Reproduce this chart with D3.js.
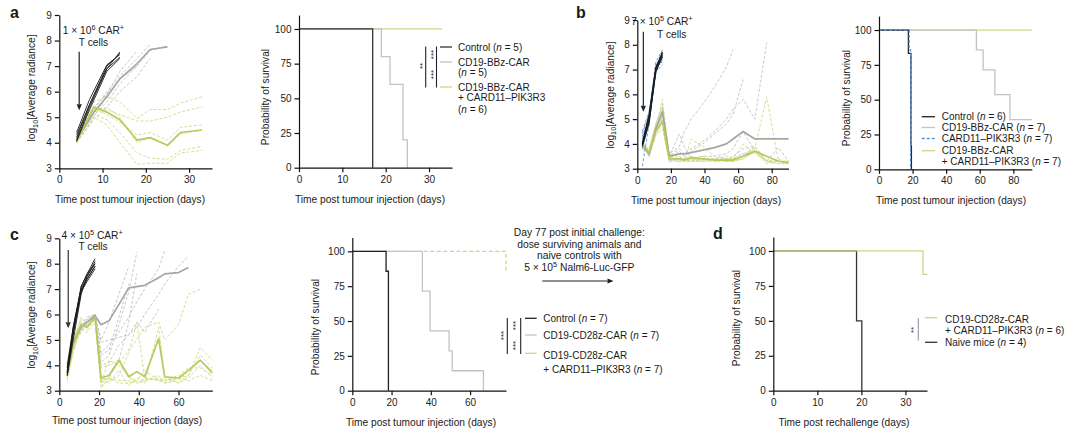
<!DOCTYPE html>
<html><head><meta charset="utf-8">
<script src="https://cdn.jsdelivr.net/npm/d3@7"></script>
<style>
body{margin:0;background:#fff;}
text{font-family:"Liberation Sans",Arial,Helvetica,sans-serif;fill:#1a1a1a;}
</style></head><body>
<svg id="c" width="1080" height="437"></svg>
<script>
// ---------------- DATA ----------------
const radTicks = [3,4,5,6,7,8,9];
const survTicks = [0,25,50,75,100];

// panel a – imaging
const aCtrlDays = [4, 7, 11, 14];
const aCtrl = [[4.1,5.4,6.9,7.55],[4.2,5.5,7.0,7.5],[4.3,5.5,6.9,7.35],[4.05,5.3,6.8,7.3],[4.4,5.7,7.05,7.45]];
const aCarDays = [4, 8, 11, 14, 18, 21, 25];
const aCar = [
  [4.0,5.0,5.9,6.8,7.6,null,null],
  [4.2,5.3,6.0,6.6,7.3,7.85,null],
  [4.1,5.1,5.6,6.3,7.0,7.6,7.8],
  [4.0,4.9,5.4,6.0,6.6,7.3,null],
  [4.2,5.4,5.9,6.5,7.0,null,null]];
const aCarMean = [4.1,5.2,5.8,6.5,7.1,7.65,7.75];
const aCombDays = [4, 8, 11, 14, 18, 21, 25, 28, 33];
const aComb = [
  [4.0,5.6,5.8,5.6,4.95,5.3,5.3,5.55,5.8],
  [4.1,5.4,5.3,5.1,4.85,4.85,5.0,5.2,5.4],
  [4.0,5.35,5.1,4.8,4.3,4.4,4.1,4.6,4.7],
  [4.1,5.1,4.9,4.4,3.6,3.4,3.35,3.7,3.85],
  [4.0,5.0,4.7,4.0,3.15,3.2,3.2,3.6,3.7],
  [4.1,5.2,5.4,5.0,4.0,4.2,3.9,4.35,4.5]];
const aCombMean = [4.05,5.4,5.2,4.9,4.1,4.2,3.9,4.4,4.5];

// panel a – survival
const aKmCtrlT = [0,17], aKmCtrlS = [100,0];
const aKmCarT = [0,19,21,24,25], aKmCarS = [100,80,60,20,0];
const aKmCombT = [0,33], aKmCombS = [100,100];

// panel b – imaging
const bCtrlDays = [3, 7, 11, 15];
const bCtrl = [[3.9,5.0,7.0,7.6],[4.0,5.1,7.1,7.7],[3.95,4.9,6.9,7.55],[4.05,5.2,7.05,7.65],[3.9,4.8,6.95,7.5],[4.0,5.0,7.0,7.7]];
const bCard = [[3.1,4.8,6.9,7.6],[4.5,5.3,7.1,7.8],[4.2,5.0,7.2,7.3],[3.8,4.9,6.8,7.7],[4.4,5.2,7.0,7.4],[4.0,5.1,7.3,7.8],[4.3,5.0,6.9,7.2]];
const bDays = [3, 7, 11, 15, 19, 25, 28, 32, 39, 46, 53, 57, 63, 70, 77, 84, 90];
const bCar = [
  [4.0,3.6,4.6,5.4,3.6,3.9,4.5,5.0,5.6,6.3,7.1,7.8,null,null,null,null,null],
  [3.9,3.7,4.8,5.5,3.4,3.7,3.5,3.7,4.0,4.4,4.8,5.2,6.6,null,null,null,null],
  [4.1,3.5,4.7,5.3,3.5,3.8,3.6,3.8,4.1,4.5,5.0,5.4,5.8,5.0,8.1,null,null],
  [4.0,3.6,4.5,5.2,3.3,3.4,3.3,3.3,3.4,3.4,3.4,3.5,3.8,3.9,3.3,3.2,3.2],
  [3.9,3.5,4.4,5.0,3.4,3.3,3.4,3.3,3.3,3.4,3.3,3.4,3.6,3.7,3.3,3.85,3.3],
  [3.8,3.6,4.6,5.1,3.5,4.4,3.9,3.4,3.5,3.5,3.6,3.8,4.5,3.7,null,null,null]];
const bCarMean = [4.0,3.6,4.6,5.3,3.5,3.6,3.6,3.65,3.75,3.85,4.0,4.2,4.5,4.2,4.2,4.2,4.2];
const bComb = [
  [4.0,3.7,4.6,5.8,3.4,3.5,3.3,4.2,3.9,3.5,3.4,3.4,3.5,3.8,5.9,3.3,3.3],
  [3.9,3.6,4.5,5.0,3.3,3.3,3.3,3.4,3.3,3.3,3.3,3.3,3.4,3.7,3.3,3.3,3.2],
  [4.0,3.5,4.3,4.8,3.4,3.4,3.4,3.5,3.4,3.3,3.4,3.3,3.5,3.9,3.3,3.2,3.3],
  [3.9,3.6,4.7,5.5,3.5,3.3,3.4,3.3,3.4,3.4,3.5,3.4,4.0,3.6,3.3,3.4,3.2],
  [4.1,3.7,4.4,4.6,3.3,3.4,3.3,3.4,3.3,3.4,3.3,3.3,3.4,3.7,3.2,3.3,3.3],
  [4.0,3.8,4.8,5.6,3.6,3.5,3.4,3.4,3.5,3.3,3.4,3.4,3.6,3.8,3.3,3.3,3.2]];
const bCombMean = [4.0,3.65,4.5,4.9,3.4,3.4,3.35,3.45,3.4,3.35,3.35,3.35,3.5,3.7,3.5,3.3,3.25];

// panel b – survival
const bKmCtrlT = [0,17.5,19,19.3], bKmCtrlS = [100,83.3,16.7,0];
const bKmCardT = [0,18,18.8], bKmCardS = [100,85.7,0];
const bKmCarT = [0,58,62,69,78,91], bKmCarS = [100,85.7,71.4,53.6,35.7,35.7];
const bKmCombT = [0,91], bKmCombS = [100,100];

// panel c – imaging
const cCtrlDays = [4, 7, 11, 14, 18];
const cCtrl = [[3.6,5.3,6.9,7.4,7.9],[3.7,5.4,7.0,7.5,8.0],[3.8,5.5,7.1,7.6,8.2],[3.9,5.2,6.9,7.3,7.8],[3.6,5.0,6.8,7.5,8.1],[4.0,5.5,7.0,7.4,7.9],[3.7,5.3,7.1,7.6,8.0]];
const cDays = [4, 7, 11, 14, 18, 21, 25, 30, 35, 39, 43, 50, 53, 60, 65, 71, 77];
const cCar = [
  [3.7,5.0,5.5,5.7,5.9,5.0,5.7,6.8,7.9,null,null,null,null,null,null,null,null],
  [3.8,4.9,5.4,5.8,6.0,4.4,4.6,5.9,7.2,null,null,null,null,null,null,null,null],
  [3.6,4.8,5.3,5.6,5.8,4.1,4.4,5.6,6.9,8.45,null,null,null,null,null,null,null],
  [3.9,5.1,5.6,5.7,5.9,3.3,3.5,4.2,5.7,7.6,null,null,null,null,null,null,null],
  [3.7,5.0,5.5,5.8,6.0,4.9,5.0,5.1,5.2,5.7,5.3,6.2,null,null,null,null,null],
  [3.6,4.8,5.4,5.6,5.9,4.5,4.8,5.3,5.9,6.5,7.0,7.8,8.5,null,null,null,null],
  [3.8,5.0,5.6,5.9,6.0,4.0,4.1,4.8,5.2,5.5,6.0,6.8,7.2,7.9,8.3,null,null]];
const cCarMean = [3.7,4.9,5.5,5.7,5.95,5.6,5.75,6.4,7.05,7.1,7.15,7.45,7.6,7.65,7.85,null,null];
const cComb = [
  [3.5,4.5,5.6,5.4,5.8,3.4,3.6,4.1,4.6,5.0,5.5,5.7,5.0,5.6,6.8,7.0,null],
  [3.8,4.9,5.9,5.6,5.9,3.2,3.4,3.6,4.5,5.7,3.5,3.4,3.4,3.5,3.6,4.7,4.2],
  [3.6,4.8,5.7,5.5,6.0,3.9,4.0,4.2,3.5,3.4,3.3,5.5,3.6,3.3,3.5,4.0,3.5],
  [3.9,5.0,5.8,5.7,5.9,3.1,3.5,3.3,3.3,3.4,3.8,3.4,3.3,3.4,3.8,4.2,3.8],
  [3.4,4.6,5.4,5.3,5.7,3.6,3.3,3.8,3.2,3.5,3.4,3.5,3.4,3.6,3.9,3.9,3.6],
  [3.7,4.7,5.5,5.6,5.8,3.3,4.2,4.0,3.6,3.3,3.4,3.6,3.3,3.5,3.4,3.6,3.4],
  [3.6,4.9,5.6,5.5,6.0,3.4,3.5,3.4,3.4,3.3,3.5,3.4,3.5,3.3,3.6,4.4,3.9]];
const cCombMean = [3.6,4.8,5.6,5.5,5.9,3.5,3.6,4.2,3.55,3.75,3.55,5.05,3.55,3.5,3.8,4.2,3.7];

// panel c – survival
const cKmCtrlT = [0,17.2,18.4], cKmCtrlS = [100,85.7,0];
const cKmCarT = [0,35.7,39.6,49.3,50.9,66.8], cKmCarS = [100,71.4,42.9,28.6,14.3,0];
const cKmCombT = [0,78.3], cKmCombS = [100,85.7];

// panel d – survival after rechallenge
const dKmCombT = [0,34,35], dKmCombS = [100,83.3,83.3];
const dKmNaiveT = [0,18.9,20.1], dKmNaiveS = [100,50,0];

// ---------------- DRAWING ----------------
const COL = {black:'#1c1c1c', gray:'#c2c2c2', grayMean:'#a6a6a6', green:'#cfdb86', greenMean:'#b8ca5a',
  blue:'#5b92d6', kmGray:'#c3c3c3', kmGreen:'#cbd886'};
const svg = d3.select('#c');

function rich(sel, parts) {
  let pend = 0;
  parts.forEach(p => {
    const o = typeof p === 'string' ? {t:p} : p;
    const ts = sel.append('tspan').text(o.t);
    let dy = pend; pend = 0;
    if (o.sup) { dy += -4; pend = 4; ts.attr('font-size','0.72em'); }
    if (o.sub) { dy += 2.5; pend = -2.5; ts.attr('font-size','0.72em'); }
    if (o.it) ts.attr('font-style','italic');
    if (dy) ts.attr('dy', dy);
  });
  return sel;
}
function text(x, y, parts, opt={}) {
  const t = svg.append('text').attr('x',x).attr('y',y).attr('dy','0.35em')
    .attr('font-size', opt.size || 10).attr('text-anchor', opt.anchor || 'start');
  if (opt.weight) t.attr('font-weight', opt.weight);
  if (opt.fill) t.style('fill', opt.fill);
  return rich(t, parts);
}
function vtext(cx, cy, parts, size=10, dy='0.35em', fill) {
  const t = svg.append('text').attr('transform',`translate(${cx},${cy}) rotate(-90)`)
    .attr('text-anchor','middle').attr('dy',dy).attr('font-size',size);
  if (fill) t.style('fill', fill);
  return rich(t, parts);
}

function panel(p) {
  const x = d3.scaleLinear().domain([0,p.xMax]).range([p.x0,p.x1]);
  const y = d3.scaleLinear().domain(p.yDom).range([p.yB,p.yT]);
  const g = svg.append('g');
  const gl = g.append('g');
  const xa = g.append('g').attr('transform',`translate(0,${p.yB})`)
    .call(d3.axisBottom(x).tickValues(p.xTicks).tickFormat(d3.format('d')).tickSize(4.5).tickSizeOuter(0).tickPadding(3.5));
  const ya = g.append('g').attr('transform',`translate(${p.x0},0)`)
    .call(d3.axisLeft(y).tickValues(p.yTicks).tickFormat(d3.format('d')).tickSize(4.5).tickSizeOuter(0).tickPadding(3));
  [xa,ya].forEach(a => {
    a.selectAll('path,line').attr('stroke','#111').attr('stroke-width',1.2);
    a.selectAll('text').attr('font-size',10).attr('font-family','"Liberation Sans",Arial,sans-serif').style('fill','#222');
  });
  text(p.xtx, p.xty, [p.xTitle], {anchor:'middle', size:10.2});
  vtext(p.ytx, p.yty, p.yTitle, 10.2);
  return {x, y, gl};
}

function mice(P, days, data, color, width, dash) {
  const line = d3.line().defined(d => d[1] != null).x(d => P.x(d[0])).y(d => P.y(d[1]));
  data.forEach(m => {
    P.gl.append('path').datum(days.map((d,i) => [d, m[i]])).attr('d', line)
      .attr('fill','none').attr('stroke',color).attr('stroke-width',width)
      .attr('stroke-dasharray', dash || null).attr('stroke-linejoin','round');
  });
}
function km(P, times, surv, color, width=1.3, dash) {
  const line = d3.line().curve(d3.curveStepAfter).x(d => P.x(d[0])).y(d => P.y(d[1]));
  P.gl.append('path').datum(times.map((t,i) => [t, surv[i]])).attr('d', line)
    .attr('fill','none').attr('stroke',color).attr('stroke-width',width)
    .attr('stroke-dasharray', dash || null);
}
function arrow(x1, y1, x2, y2, color='#222') {
  const ang = Math.atan2(y2-y1, x2-x1), L = 6, W = 2.6;
  const bx = x2 - L*Math.cos(ang), by = y2 - L*Math.sin(ang);
  svg.append('line').attr('x1',x1).attr('y1',y1).attr('x2',bx).attr('y2',by)
    .attr('stroke',color).attr('stroke-width',1.2);
  const px = -Math.sin(ang)*W, py = Math.cos(ang)*W;
  svg.append('path').attr('d',`M${x2},${y2}L${bx+px},${by+py}L${bx-px},${by-py}Z`).attr('fill',color);
}
function legendLine(x1, x2, y, color, dash) {
  svg.append('line').attr('x1',x1).attr('x2',x2).attr('y1',y).attr('y2',y)
    .attr('stroke',color).attr('stroke-width',1.3).attr('stroke-dasharray', dash || null);
}
function vline(x, y1, y2, color='#222', w=1.1) {
  svg.append('line').attr('x1',x).attr('x2',x).attr('y1',y1).attr('y2',y2).attr('stroke',color).attr('stroke-width',w);
}
function stars(cx, cy, s, fill) { vtext(cx, cy, [s], 8, '0.6em', fill); }

const radTitle = ['log', {t:'10', sub:true}, '[Average radiance]'];
const survTitle = ['Probability of survival'];
const dash = '3,1.8';

// ---------- panel a ----------
const AL = panel({x0:59.3, x1:212, xMax:35.3, yT:15, yB:168.3, yDom:[3,9], xTicks:[0,10,20,30], yTicks:radTicks,
  xTitle:'Time post tumour injection (days)', xtx:130, xty:199, yTitle:radTitle, ytx:31.5, yty:88});
mice(AL, aCarDays, aCar, COL.gray, 0.9, dash);
mice(AL, aCombDays, aComb, COL.green, 0.9, dash);
mice(AL, aCarDays, [aCarMean], COL.grayMean, 1.7);
mice(AL, aCombDays, [aCombMean], COL.greenMean, 1.7);
mice(AL, aCtrlDays, aCtrl, COL.black, 0.9);
arrow(AL.x(4.6), AL.y(7.56), AL.x(4.6), AL.y(5.27));
text(AL.x(7.9), AL.y(8.38), ['1 × 10', {t:'6', sup:true}, ' CAR', {t:'+', sup:true}], {anchor:'middle', size:10.2});
text(AL.x(7.9), AL.y(7.93), ['T cells'], {anchor:'middle', size:10.2});

const AR = panel({x0:299, x1:452, xMax:35.3, yT:15.1, yB:167.7, yDom:[0,110], xTicks:[0,10,20,30], yTicks:survTicks,
  xTitle:'Time post tumour injection (days)', xtx:370, xty:199, yTitle:survTitle, ytx:265, yty:97});
km(AR, aKmCombT, aKmCombS, COL.kmGreen);
km(AR, aKmCarT, aKmCarS, COL.kmGray);
km(AR, aKmCtrlT, aKmCtrlS, '#333');
legendLine(440, 452, 47, '#333');
legendLine(440, 452, 62, COL.kmGray);
legendLine(440, 452, 87, COL.kmGreen);
text(458, 47, ['Control (', {t:'n', it:true}, ' = 5)']);
text(458, 62, ['CD19-BBz-CAR']);
text(458, 72.5, ['(', {t:'n', it:true}, ' = 5)']);
text(458, 87, ['CD19-BBz-CAR']);
text(458, 97.5, ['+ CARD11–PIK3R3']);
text(458, 109, ['(', {t:'n', it:true}, ' = 6)']);
vline(425.7, 46.5, 87.5);
vline(436.5, 46.5, 87.5);
stars(420, 66, '**');
stars(431.5, 54.5, '***');
stars(431.5, 74.5, '***');

// ---------- panel b ----------
const BL = panel({x0:637.3, x1:788.5, xMax:90, yT:20, yB:168.7, yDom:[3,9], xTicks:[0,20,40,60,80], yTicks:radTicks,
  xTitle:'Time post tumour injection (days)', xtx:706, xty:200, yTitle:radTitle, ytx:610, yty:95});
mice(BL, bDays, bCar, COL.gray, 0.9, dash);
mice(BL, bDays, bComb, COL.green, 0.9, dash);
mice(BL, bDays, [bCarMean], COL.grayMean, 1.7);
mice(BL, bDays, [bCombMean], COL.greenMean, 1.7);
mice(BL, bCtrlDays, bCard, COL.blue, 0.9, '3,2');
mice(BL, bCtrlDays, bCtrl, COL.black, 0.9);
arrow(BL.x(3.6), BL.y(8.53), BL.x(3.6), BL.y(5.3));
text(BL.x(14.7), BL.y(8.93), ['7 × 10', {t:'5', sup:true}, ' CAR', {t:'+', sup:true}], {anchor:'middle', size:10.2});
text(BL.x(20.5), BL.y(8.42), ['T cells'], {anchor:'middle', size:10.2});

const BR = panel({x0:879, x1:1031.8, xMax:91, yT:16.1, yB:169.3, yDom:[0,110], xTicks:[0,20,40,60,80], yTicks:survTicks,
  xTitle:'Time post tumour injection (days)', xtx:951, xty:200, yTitle:survTitle, ytx:846.5, yty:98});
km(BR, bKmCombT, bKmCombS, COL.kmGreen);
km(BR, bKmCarT, bKmCarS, COL.kmGray);
km(BR, bKmCtrlT, bKmCtrlS, '#222');
km(BR, bKmCardT, bKmCardS, COL.blue, 1.2, '3,2');
legendLine(921.7, 935, 116.7, '#222');
legendLine(921.7, 935, 127.5, COL.kmGray);
legendLine(921.7, 935, 138.5, COL.blue, '3,2');
legendLine(921.7, 935, 150.7, COL.kmGreen);
text(941.7, 116.7, ['Control (', {t:'n', it:true}, ' = 6)']);
text(941.7, 127.5, ['CD19-BBz-CAR (', {t:'n', it:true}, ' = 7)']);
text(941.7, 138.5, ['CARD11–PIK3R3 (', {t:'n', it:true}, ' = 7)']);
text(941.7, 150.7, ['CD19-BBz-CAR']);
text(941.7, 161.3, ['+ CARD11–PIK3R3 (', {t:'n', it:true}, ' = 7)']);

// ---------- panel c ----------
const CL = panel({x0:59.3, x1:212.3, xMax:77, yT:238.3, yB:390.7, yDom:[3,9], xTicks:[0,20,40,60], yTicks:radTicks,
  xTitle:'Time post tumour injection (days)', xtx:127, xty:420, yTitle:radTitle, ytx:31.5, yty:315});
mice(CL, cDays, cCar, COL.gray, 0.9, dash);
mice(CL, cDays, cComb, COL.green, 0.9, dash);
mice(CL, cDays, [cCarMean], COL.grayMean, 1.7);
mice(CL, cDays, [cCombMean], COL.greenMean, 1.7);
mice(CL, cCtrlDays, cCtrl, COL.black, 0.9);
arrow(CL.x(4.5), CL.y(8.54), CL.x(4.5), CL.y(5.46), '#333');
text(CL.x(16.5), CL.y(9.13), ['4 × 10', {t:'5', sup:true}, ' CAR', {t:'+', sup:true}], {anchor:'middle', size:10.2});
text(CL.x(17), CL.y(8.67), ['T cells'], {anchor:'middle', size:10.2});

const CM = panel({x0:352.3, x1:506, xMax:78.3, yT:237.4, yB:390.7, yDom:[0,110], xTicks:[0,20,40,60], yTicks:survTicks,
  xTitle:'Time post tumour injection (days)', xtx:421, xty:422, yTitle:survTitle, ytx:315, yty:327});
km(CM, cKmCarT, cKmCarS, COL.kmGray);
km(CM, cKmCombT, cKmCombS, COL.kmGreen, 1.3, '4,2.5');
km(CM, cKmCtrlT, cKmCtrlS, '#222');
legendLine(525, 536.7, 318.3, '#222');
legendLine(525, 536.7, 335, COL.kmGray);
legendLine(525, 536.7, 353.3, COL.kmGreen);
text(543.3, 318.3, ['Control (', {t:'n', it:true}, ' = 7)']);
text(543.3, 335, ['CD19-CD28z-CAR (', {t:'n', it:true}, ' = 7)']);
text(543.3, 355, ['CD19-CD28z-CAR']);
text(543.3, 369.3, ['+ CARD11–PIK3R3 (', {t:'n', it:true}, ' = 7)']);
vline(507.3, 318, 354);
vline(520.7, 318, 354);
stars(501.5, 335.5, '***');
stars(513.3, 325.5, '***');
stars(513.3, 345.5, '***');

// annotation between c and d
text(579.3, 232.3, ['Day 77 post initial challenge:'], {anchor:'middle', size:10.3});
text(579.3, 244, ['dose surviving animals and'], {anchor:'middle', size:10.3});
text(579.3, 255.5, ['naive controls with'], {anchor:'middle', size:10.3});
text(579.3, 267, ['5 × 10', {t:'5', sup:true}, ' Nalm6-Luc-GFP'], {anchor:'middle', size:10.3});
arrow(542.3, 281, 613.5, 281);

// ---------- panel d ----------
const DR = panel({x0:773.3, x1:927, xMax:34.9, yT:237, yB:390.7, yDom:[0,110], xTicks:[0,10,20,30], yTicks:survTicks,
  xTitle:'Time post rechallenge (days)', xtx:844, xty:422, yTitle:survTitle, ytx:736.5, yty:318});
km(DR, dKmNaiveT, dKmNaiveS, '#333');
km(DR, dKmCombT, dKmCombS, COL.kmGreen);
legendLine(925, 937.3, 317.7, COL.kmGreen);
legendLine(925, 937.3, 342.3, '#333');
text(945, 319, ['CD19-CD28z-CAR']);
text(945, 330.5, ['+ CARD11–PIK3R3 (', {t:'n', it:true}, ' = 6)']);
text(945, 342.3, ['Naive mice (', {t:'n', it:true}, ' = 4)']);
vline(918.3, 318, 340.5, '#999');
stars(910.7, 330, '**', '#2b3a5a');

// panel letters
text(10, 12, ['a'], {size:16, weight:'bold'});
text(576, 12, ['b'], {size:16, weight:'bold'});
text(10, 234, ['c'], {size:16, weight:'bold'});
text(713, 233, ['d'], {size:16, weight:'bold'});
</script>
</body></html>
